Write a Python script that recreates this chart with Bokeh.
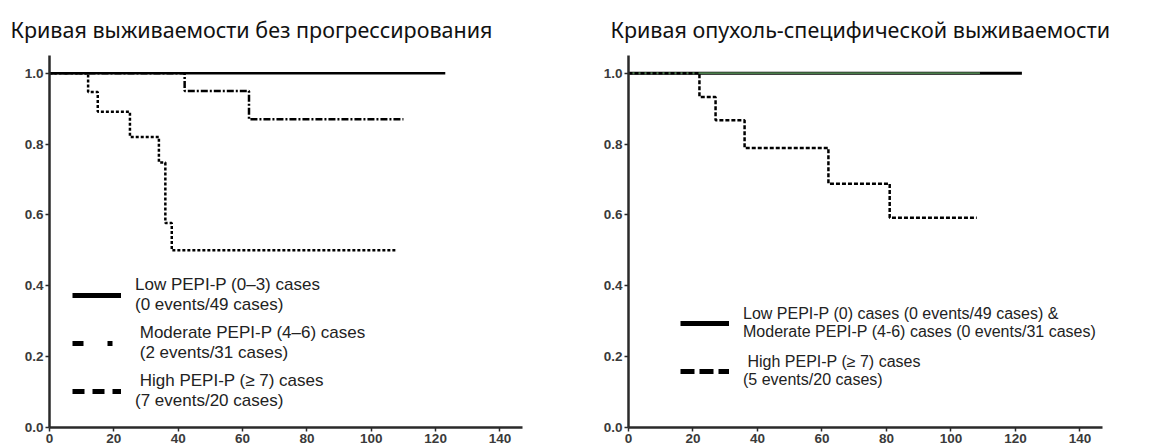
from bokeh.plotting import figure
from bokeh.layouts import row
from bokeh.models import (Legend, LegendItem, FixedTicker, ColumnDataSource, Range1d,
                          CustomJSTickFormatter)
from bokeh.embed import file_html
from bokeh.resources import INLINE

# ---- data ----
pfs_title = "Кривая выживаемости без прогрессирования"
css_title = "Кривая опухоль-специфической выживаемости"

x_ticks = [0, 20, 40, 60, 80, 100, 120, 140]
y_ticks = [0.0, 0.2, 0.4, 0.6, 0.8, 1.0]

# progression-free survival
pfs_low_t = [0, 123]
pfs_low_s = [1.0, 1.0]
pfs_mod_t = [0, 42, 62, 110]
pfs_mod_s = [1.0, 0.95, 0.87, 0.87]
pfs_high_t = [0, 12, 15, 25, 34, 36, 38, 108]
pfs_high_s = [1.0, 0.947, 0.891, 0.82, 0.748, 0.577, 0.5, 0.5]

pfs_labels = [
    "Low PEPI-P (0–3) cases\n(0 events/49 cases)",
    " Moderate PEPI-P (4–6) cases\n (2 events/31 cases)",
    " High PEPI-P (≥ 7) cases\n(7 events/20 cases)",
]

# cancer-specific survival
css_low_t = [0, 122]
css_low_s = [1.0, 1.0]
css_mod_t = [0, 109]
css_mod_s = [1.0, 1.0]
css_high_t = [0, 22, 27, 36, 62, 81, 108]
css_high_s = [1.0, 0.933, 0.867, 0.789, 0.688, 0.592, 0.592]

css_labels = [
    "Low PEPI-P (0) cases (0 events/49 cases) &\nModerate PEPI-P (4-6) cases (0 events/31 cases)",
    " High PEPI-P (≥ 7) cases\n(5 events/20 cases)",
]

FONT = "Liberation Sans"
AX = "#2a2a2a"
NAN = float("nan")


def make_fig(title, width, border_left, border_right):
    p = figure(width=width, height=446, output_backend="svg", toolbar_location=None,
               x_range=Range1d(0, 147), y_range=Range1d(0, 1.05),
               min_border_left=border_left, min_border_right=border_right,
               min_border_top=55, min_border_bottom=19, title=title)
    p.title.text_font = "Noto Sans"
    p.title.text_font_size = "21.5px"
    p.title.text_font_style = "normal"
    p.title.text_color = "#111111"
    p.title.standoff = 23
    p.title.align = "left"
    p.outline_line_color = None
    p.grid.grid_line_color = None
    p.background_fill_color = "white"
    p.border_fill_color = "white"
    for ax in (p.xaxis[0], p.yaxis[0]):
        ax.axis_line_width = 2.5
        ax.axis_line_color = AX
        ax.major_tick_line_color = AX
        ax.major_tick_line_width = 1.5
        ax.major_tick_out = 4
        ax.major_tick_in = 0
        ax.minor_tick_line_color = None
        ax.major_label_text_font = FONT
        ax.major_label_text_font_size = "13.5px"
        ax.major_label_text_font_style = "bold"
        ax.major_label_text_color = "#3a3a3a"
        ax.major_label_standoff = 2
    p.xaxis.ticker = FixedTicker(ticks=x_ticks)
    p.yaxis.ticker = FixedTicker(ticks=y_ticks)
    p.yaxis.formatter = CustomJSTickFormatter(code="return tick.toFixed(1);")
    return p


def legend_setup(p, items, loc, standoff, size, lh, spacing):
    leg = Legend(items=items, location=loc, glyph_width=49, glyph_height=20,
                 label_text_font=FONT, label_text_font_size=size,
                 label_text_color="#222222", label_standoff=standoff,
                 label_text_line_height=lh,
                 spacing=spacing, padding=0, margin=0,
                 border_line_alpha=0, background_fill_alpha=0)
    p.add_layout(leg, "center")


def key_line(p, **kw):
    src = ColumnDataSource(dict(x=[NAN, NAN], y=[NAN, NAN]))
    return p.line("x", "y", source=src, line_color="black", line_width=5, **kw)


# ---------- left: PFS ----------
p1 = make_fig(pfs_title, 574, 49, 52)
p1.title.offset = -39
p1.step(pfs_low_t, pfs_low_s, mode="after", line_color="black", line_width=2.5)
p1.step(pfs_mod_t, pfs_mod_s, mode="after", line_color="black", line_width=2.5, line_dash="7 2 2 2")
p1.step(pfs_high_t, pfs_high_s, mode="after", line_color="black", line_width=2.5, line_dash="3 2")

l1 = key_line(p1)
l2 = key_line(p1, line_dash="11 24 5 20")
l3 = key_line(p1, line_dash="12 8")
legend_setup(p1, [LegendItem(label=pfs_labels[0], renderers=[l1]),
                  LegendItem(label=pfs_labels[1], renderers=[l2]),
                  LegendItem(label=pfs_labels[2], renderers=[l3])], (23, 16), 14, "17px", 1.2, 8)

# ---------- right: CSS ----------
p2 = make_fig(css_title, 575, 54, 47)
p2.title.offset = -18
p2.step(css_low_t, css_low_s, mode="after", line_color="black", line_width=3)
p2.step(css_mod_t, css_mod_s, mode="after", line_color="#4b7b4b", line_width=1.8)
p2.step(css_high_t, css_high_s, mode="after", line_color="black", line_width=2.5, line_dash="4 2")

r1 = key_line(p2)
r2 = key_line(p2, line_dash="14 5")
legend_setup(p2, [LegendItem(label=css_labels[0], renderers=[r1]),
                  LegendItem(label=css_labels[1], renderers=[r2])], (52, 38), 14, "16px", 1.3, 12)

layout = row(p1, p2)
open("out.html", "w").write(file_html(layout, INLINE))
